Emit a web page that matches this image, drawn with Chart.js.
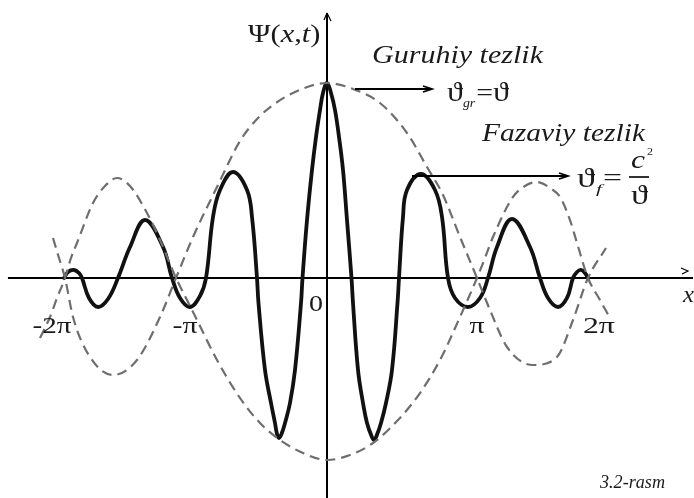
<!DOCTYPE html>
<html>
<head>
<meta charset="utf-8">
<script src="https://cdn.jsdelivr.net/npm/chart.js@4.4.1/dist/chart.umd.min.js"></script>
<style>
  html, body { margin: 0; padding: 0; background: #fff; }
</style>
</head>
<body>
<canvas id="waveChart" width="694" height="498"></canvas>
<script>
// x in units of pi (roughly), y relative to the packet peak
const waveX = [-1.7533, -1.7267, -1.6867, -1.6533, -1.6333, -1.5867, -1.5267, -1.46, -1.3933, -1.3133,
  -1.2133, -1.0933, -1.0333, -0.98, -0.9133, -0.8467, -0.8067, -0.76, -0.7133, -0.6267,
  -0.5333, -0.5, -0.4667, -0.4567, -0.4133, -0.3733, -0.3467, -0.3333, -0.32, -0.3033, -0.28, -0.2467,
  -0.2133, -0.1733, -0.1633, -0.1333, -0.1, -0.0733, -0.0467, -0.0267, 0, 0.0267,
  0.0533, 0.08, 0.1067, 0.1333, 0.1633, 0.1733, 0.2067, 0.24, 0.2667, 0.2967, 0.3133, 0.33,
  0.36, 0.3933, 0.4333, 0.47, 0.48, 0.5067, 0.5333, 0.6267, 0.72, 0.7667,
  0.8067, 0.8533, 0.94, 1.02, 1.0733, 1.1333, 1.2333, 1.3533, 1.42, 1.4733,
  1.54, 1.6, 1.64, 1.6667, 1.6933, 1.72, 1.74];
const waveY = [0, 0.0311, 0.0415, 0.0259, 0, -0.1036, -0.1503, -0.1088, 0, 0.1606,
  0.3005, 0.1606, 0, -0.1036, -0.1503, -0.0933, 0, 0.3161, 0.456, 0.5492,
  0.456, 0.3161, 0, -0.1295, -0.4767, -0.6477, -0.7513, -0.8083, -0.829, -0.8083, -0.7513, -0.6477,
  -0.4767, -0.1295, 0, 0.3005, 0.5596, 0.7306, 0.8705, 0.9585, 1.0104, 0.9585,
  0.8705, 0.7306, 0.5596, 0.3005, 0, -0.1295, -0.4767, -0.6477, -0.7513, -0.8187, -0.8394, -0.8187,
  -0.7513, -0.6477, -0.4767, -0.1295, 0, 0.3161, 0.456, 0.5389, 0.456, 0.3161,
  0, -0.1036, -0.1503, -0.1036, 0, 0.1606, 0.3057, 0.1606, 0, -0.1036,
  -0.1503, -0.1036, 0, 0.0311, 0.0415, 0.0259, 0];

// dashed envelope, positive in the middle
const envUpX = [-1.8267, -1.7867, -1.7467, -1.6933, -1.58, -1.4267, -1.2667, -1.1133, -1.0067, -0.8933,
  -0.7333, -0.58, -0.46, -0.36, -0.2133, 0, 0.1733, 0.3533, 0.5333, 0.6667,
  0.7733, 0.8867, 1.0, 1.0867, 1.2, 1.3733, 1.5333, 1.64, 1.74, 1.86];
const envUpY = [0.2073, 0.1036, 0, -0.2021, -0.4093, -0.5026, -0.4249, -0.2021, 0, 0.2124,
  0.4715, 0.7098, 0.829, 0.8964, 0.9637, 1.0104, 0.9793, 0.9067, 0.7513, 0.5751,
  0.4301, 0.2124, 0, -0.1658, -0.3575, -0.4508, -0.4093, -0.2176, 0, 0.1554];

// dashed envelope, negative in the middle
const envDownX = [-1.9133, -1.8467, -1.8, -1.7467, -1.7067, -1.6667, -1.56, -1.48, -1.4, -1.3133,
  -1.2, -1.1133, -1.0067, -0.9333, -0.8667, -0.7333, -0.58, -0.4467, -0.3133, -0.16,
  0, 0.1533, 0.3067, 0.4733, 0.62, 0.7533, 0.8867, 1.0, 1.0533, 1.1067,
  1.24, 1.32, 1.4, 1.4867, 1.5533, 1.62, 1.6667, 1.74, 1.82, 1.8867];
const envDownY = [-0.3109, -0.2021, -0.1036, 0, 0.1036, 0.1813, 0.3886, 0.4767, 0.5181, 0.4767,
  0.3368, 0.1969, 0, -0.114, -0.2176, -0.4249, -0.6218, -0.7513, -0.8394, -0.9067,
  -0.943, -0.9171, -0.8549, -0.7358, -0.5959, -0.4249, -0.2021, 0, 0.1036, 0.2124,
  0.4197, 0.4767, 0.4974, 0.4663, 0.4197, 0.3005, 0.1813, 0, -0.114, -0.2073];

const tickLabels = ['-2\u03c0', '-\u03c0', '\u03c0', '2\u03c0'];
const tickAt = [-1.833, -0.947, 1.0, 1.813];

const toPoints = (xs, ys) => xs.map((x, i) => ({ x: x, y: ys[i] }));

const SERIF = '"Liberation Serif", "DejaVu Serif", serif';

function arrowLine(ctx, x1, y, x2) {
    ctx.beginPath();
    ctx.moveTo(x1, y);
    ctx.lineTo(x2, y);
    ctx.stroke();
    ctx.beginPath();
    ctx.moveTo(x2 - 9, y - 3);
    ctx.lineTo(x2, y);
    ctx.lineTo(x2 - 9, y + 3);
    ctx.stroke();
}

// text stretched to the width it has in the scan
function fitText(ctx, text, x, y, width, font) {
    ctx.font = font;
    const w = ctx.measureText(text).width;
    ctx.save();
    ctx.translate(x, y);
    ctx.scale(width / w, 1);
    ctx.fillText(text, 0, 0);
    ctx.restore();
}

// draws runs of [text, italic, size, dy] one after another
function textRun(ctx, x, y, parts, sx) {
    sx = sx || 1;
    let cx = x;
    parts.forEach(p => {
        ctx.font = (p[1] ? 'italic ' : '') + p[2] + 'px ' + SERIF;
        ctx.save();
        ctx.translate(cx, y + (p[3] || 0));
        ctx.scale(sx, 1);
        ctx.fillText(p[0], 0, 0);
        ctx.restore();
        cx += ctx.measureText(p[0]).width * sx;
    });
    return cx;
}

const axesPlugin = {
    id: 'figureAxes',
    beforeDatasetsDraw(chart) {
        const ctx = chart.ctx;
        const xs = chart.scales.x, ys = chart.scales.y;
        const y0 = ys.getPixelForValue(0);
        const x0 = xs.getPixelForValue(0);
        ctx.save();
        ctx.strokeStyle = '#000';
        ctx.lineWidth = 2;
        ctx.beginPath();
        ctx.moveTo(xs.getPixelForValue(-2.127), y0);
        ctx.lineTo(xs.getPixelForValue(2.44), y0);
        ctx.moveTo(x0, ys.getPixelForValue(1.373));
        ctx.lineTo(x0, ys.getPixelForValue(-1.14));
        ctx.stroke();
        ctx.restore();
    },
    afterDatasetsDraw(chart) {
        const ctx = chart.ctx;
        const xs = chart.scales.x, ys = chart.scales.y;
        const y0 = ys.getPixelForValue(0);
        ctx.save();
        ctx.fillStyle = '#1a1a1a';
        ctx.strokeStyle = '#000';
        ctx.lineWidth = 1.8;
        ctx.textBaseline = 'alphabetic';
        ctx.textAlign = 'left';

        // tick labels
        const tickW = [39, 25, 15, 32];
        tickLabels.forEach((t, i) => {
            const cx = xs.getPixelForValue(tickAt[i]);
            fitText(ctx, t, cx - tickW[i] / 2, y0 + 55, tickW[i], '23px ' + SERIF);
        });
        fitText(ctx, '0', 309, y0 + 33, 14, '23px ' + SERIF);

        // axis names
        textRun(ctx, 248, 42, [['\u03a8(', false, 25], ['x', true, 25], [',', false, 25], ['t', true, 25], [')', false, 25]], 1.22);
        ctx.lineWidth = 1.2;
        ctx.beginPath();
        ctx.moveTo(327, 13); ctx.lineTo(331, 21);
        ctx.moveTo(327, 13); ctx.lineTo(324, 20);
        ctx.stroke();
        fitText(ctx, 'x', 683, 302, 11, 'italic 23px ' + SERIF);
        ctx.beginPath();
        ctx.moveTo(681, 268); ctx.lineTo(688, 271); ctx.lineTo(682, 274);
        ctx.stroke();
        ctx.lineWidth = 1.8;

        // captions
        fitText(ctx, 'Guruhiy tezlik', 372, 63, 171, 'italic 26px ' + SERIF);
        fitText(ctx, 'Fazaviy tezlik', 482, 141, 163, 'italic 26px ' + SERIF);

        arrowLine(ctx, 355, 89, 432);
        arrowLine(ctx, 412, 176, 568);

        const e1 = textRun(ctx, 447, 101, [['\u03d1', false, 28], ['gr', true, 12, 6]], 1.15);
        textRun(ctx, e1 + 1, 101, [['=', false, 26], ['\u03d1', false, 28]], 1.15);

        // phase velocity formula, placed piece by piece
        fitText(ctx, '\u03d1', 577, 187, 18, '28px ' + SERIF);
        fitText(ctx, 'f', 596, 193, 6, 'italic 13px ' + SERIF);
        fitText(ctx, '=', 603, 186, 19, '26px ' + SERIF);
        fitText(ctx, 'c', 631, 168, 14, 'italic 26px ' + SERIF);
        fitText(ctx, '2', 647, 155, 6, '11px ' + SERIF);
        ctx.lineWidth = 1.6;
        ctx.beginPath();
        ctx.moveTo(629, 177); ctx.lineTo(649, 177);
        ctx.stroke();
        fitText(ctx, '\u03d1', 631, 204, 17, '28px ' + SERIF);

        fitText(ctx, '3.2-rasm', 600, 488, 65, 'italic 18px ' + SERIF);
        ctx.restore();
    }
};

const ctx = document.getElementById('waveChart').getContext('2d');
new Chart(ctx, {
    type: 'scatter',
    data: {
        datasets: [
            {
                data: toPoints(envUpX, envUpY),
                showLine: true,
                borderColor: '#6e6e6e',
                borderWidth: 2.2,
                borderDash: [10, 6],
                pointRadius: 0,
                cubicInterpolationMode: 'monotone'
            },
            {
                data: toPoints(envDownX, envDownY),
                showLine: true,
                borderColor: '#6e6e6e',
                borderWidth: 2.2,
                borderDash: [10, 6],
                pointRadius: 0,
                cubicInterpolationMode: 'monotone'
            },
            {
                data: toPoints(waveX, waveY),
                showLine: true,
                borderColor: '#111',
                borderWidth: 3.8,
                borderJoinStyle: 'round',
                borderCapStyle: 'round',
                pointRadius: 0,
                tension: 0.4
            }
        ]
    },
    options: {
        responsive: false,
        animation: false,
        layout: { padding: 0 },
        scales: {
            x: { type: 'linear', min: -2.18, max: 2.44667, display: false },
            y: { type: 'linear', min: -1.1399, max: 1.4404, display: false }
        },
        plugins: { legend: { display: false }, tooltip: { enabled: false } }
    },
    plugins: [axesPlugin]
});
</script>
</body>
</html>
